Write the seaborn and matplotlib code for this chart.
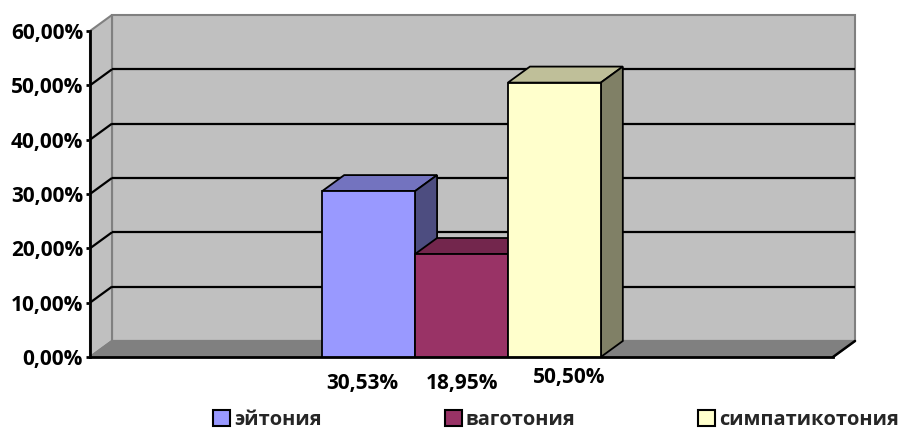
import matplotlib
matplotlib.use("Agg")
import matplotlib.pyplot as plt
from matplotlib.patches import Polygon, Patch
import seaborn as sns

# --- data -------------------------------------------------------------
categories = ["эйтония", "ваготония", "симпатикотония"]
values = [0.3053, 0.1895, 0.5050]
value_labels = ["30,53%", "18,95%", "50,50%"]
tick_values = [0.0, 0.1, 0.2, 0.3, 0.4, 0.5, 0.6]
tick_labels = ["0,00%", "10,00%", "20,00%", "30,00%", "40,00%", "50,00%", "60,00%"]

# --- style ------------------------------------------------------------
front_colors = ["#9999FF", "#993366", "#FFFFCC"]
top_colors = ["#7373BF", "#73264D", "#BFBF99"]
side_colors = ["#4D4D80", "#4D1A33", "#808066"]
WALL = "#C0C0C0"
FLOOR = "#808080"
EDGE = "#808080"
XMIN, XMAX = -3.0, 5.0
YMAX = 0.6
DX, DY = 0.237, 0.0295          # depth of the 3-D box, data units
FS = 15
LEG_FS = 14.4
label_off_px = [(-6, -26), (1, -26), (15, -21)]

sns.set_theme(style="white")
plt.rcParams["font.family"] = ["Open Sans", "DejaVu Sans"]
plt.rcParams["font.weight"] = "bold"

fig = plt.figure(figsize=(9.03, 4.30), dpi=100)
ax = fig.add_axes([90 / 903, 73 / 430, 743 / 903, 326 / 430])
ax.set_facecolor("none")

sns.barplot(x=categories, y=values, hue=categories, palette=front_colors,
            width=1.0, edgecolor="black", linewidth=1.3, legend=False,
            saturation=1.0, ax=ax)
bars = sorted(list(ax.patches), key=lambda r: r.get_x())
ax.set_xlim(XMIN, XMAX)
ax.set_ylim(0, YMAX)

# walls and floor of the 3-D box
back = Polygon([(XMIN + DX, DY), (XMAX + DX, DY), (XMAX + DX, YMAX + DY),
                (XMIN + DX, YMAX + DY)], closed=True, facecolor=WALL,
               edgecolor=EDGE, lw=1.5, zorder=0.5, clip_on=False)
left = Polygon([(XMIN, 0), (XMIN + DX, DY), (XMIN + DX, YMAX + DY),
                (XMIN, YMAX)], closed=True, facecolor=WALL,
               edgecolor=EDGE, lw=1.5, zorder=0.6, clip_on=False)
floor = Polygon([(XMIN, 0), (XMAX, 0), (XMAX + DX, DY), (XMIN + DX, DY)],
                closed=True, facecolor=FLOOR, edgecolor=EDGE, lw=1.5,
                zorder=0.7, clip_on=False)
for p in (back, left, floor):
    ax.add_patch(p)

for t in tick_values[1:-1]:
    ax.plot([XMIN + DX, XMAX + DX], [t + DY, t + DY], color="black", lw=1.6,
            zorder=1, clip_on=False, solid_capstyle="butt")
    ax.plot([XMIN, XMIN + DX], [t, t + DY], color="black", lw=1.6,
            zorder=1, clip_on=False, solid_capstyle="butt")
ax.plot([XMAX, XMAX + DX], [0, DY], color="black", lw=1.8, zorder=1,
        clip_on=False)

# bars: front faces from seaborn, plus top and side faces
for i, bar in enumerate(bars):
    x0 = bar.get_x()
    x1 = x0 + bar.get_width()
    h = bar.get_height()
    z = 3 + i
    bar.set_zorder(z + 0.2)
    top = Polygon([(x0, h), (x1, h), (x1 + DX, h + DY), (x0 + DX, h + DY)],
                  closed=True, facecolor=top_colors[i], edgecolor="black",
                  lw=1.3, zorder=z, clip_on=False)
    side = Polygon([(x1, 0), (x1 + DX, DY), (x1 + DX, h + DY), (x1, h)],
                   closed=True, facecolor=side_colors[i], edgecolor="black",
                   lw=1.3, zorder=z, clip_on=False)
    ax.add_patch(top)
    ax.add_patch(side)
    dxp, dyp = label_off_px[i]
    ax.annotate(value_labels[i], xy=(x0 + bar.get_width() / 2, 0),
                xytext=(dxp * 0.72, dyp * 0.72), textcoords="offset points",
                ha="center", va="center", fontsize=FS, fontweight="bold",
                color="black", annotation_clip=False)

# axes
ax.set_yticks(tick_values)
ax.set_yticklabels(tick_labels, fontsize=FS, fontweight="bold")
ax.set_xticks([])
ax.set_xlabel("")
ax.set_ylabel("")
for s in ("top", "right"):
    ax.spines[s].set_visible(False)
for s in ("left", "bottom"):
    ax.spines[s].set_color("black")
    ax.spines[s].set_linewidth(2)
    ax.spines[s].set_zorder(2)
ax.tick_params(axis="y", which="major", left=True, length=3, width=2,
               color="black", pad=2, labelcolor="black")

# legend
handles = [Patch(facecolor=c, edgecolor="black", lw=1.5) for c in front_colors]
fig.legend(handles, categories, loc="center left",
           bbox_to_anchor=(213 / 903, 1 - 420 / 430), ncol=3, frameon=False,
           handlelength=0.85, handleheight=0.85,
           handletextpad=0.2, columnspacing=6.15, borderpad=0,
           borderaxespad=0, prop={"weight": "bold", "size": LEG_FS})

fig.savefig("out.png", dpi=100)
